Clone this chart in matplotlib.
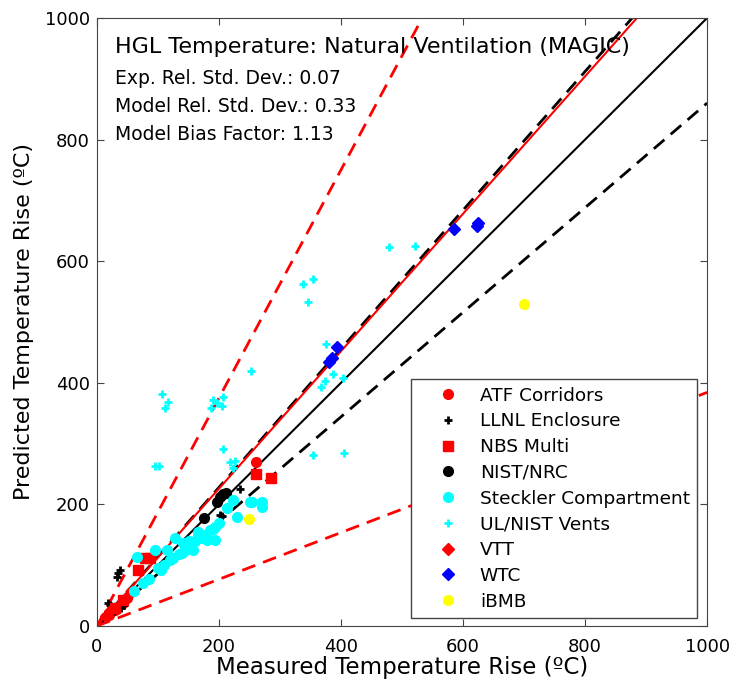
import numpy as np
import matplotlib
matplotlib.use("Agg")
import matplotlib.pyplot as plt

plt.rcParams['font.family'] = ['DejaVu Sans']

# measured / predicted temperature rise (C)
atf_x = [261, 20, 30, 42, 50, 55]
atf_y = [270, 18, 27, 38, 46, 56]

llnl_x = [234, 205, 202, 34, 38, 33, 18, 22, 40, 45, 28]
llnl_y = [226, 181, 183, 87, 92, 81, 38, 34, 30, 35, 25]

nbs_x = [261, 286, 79, 67, 87, 43, 30]
nbs_y = [250, 244, 112, 92, 112, 43, 30]

nist_x = [207, 196, 175, 202, 212]
nist_y = [217, 204, 178, 212, 219]

steck_x = [66, 95, 128, 157, 180, 193, 166, 185, 193, 141, 115, 213, 229, 223, 254,
           270, 270, 251, 100, 110, 120, 135, 145, 150, 160, 170, 175, 140, 125, 105,
           85, 75, 60, 150, 165, 190, 200, 178]
steck_y = [113, 125, 145, 125, 141, 141, 155, 158, 163, 137, 125, 194, 179, 207, 204,
           204, 196, 204, 95, 100, 108, 118, 125, 130, 140, 145, 150, 120, 112, 92,
           78, 70, 58, 140, 148, 160, 170, 150]

ul_x = [107, 116, 111, 190, 207, 187, 205, 196, 252, 207, 218, 226, 223, 95, 102,
        338, 354, 346, 479, 521, 375, 387, 374, 367, 403, 354, 405]
ul_y = [382, 368, 358, 372, 377, 359, 362, 367, 419, 291, 270, 271, 260, 263, 263,
        562, 571, 533, 623, 625, 464, 414, 403, 393, 408, 281, 284]

vtt_x = [15, 22]
vtt_y = [16, 24]

wtc_x = [585, 623, 625, 393, 385, 380]
wtc_y = [653, 658, 663, 459, 441, 434]

ibmb_x = [700, 249]
ibmb_y = [530, 176]

sigma_e = 0.07
sigma_m = 0.33
delta = 1.13

fig = plt.figure(figsize=(7.32, 6.86), dpi=100)
ax = fig.add_axes([0.1325, 0.0875, 0.8335, 0.8863])

xx = np.array([0, 1000])
ax.plot(xx, xx, 'k-', lw=1.5)
ax.plot(xx, xx * (1 + 2 * sigma_e), 'k--', lw=2, dashes=(5, 3))
ax.plot(xx, xx * (1 - 2 * sigma_e), 'k--', lw=2, dashes=(5, 3))
ax.plot(xx, xx * delta, 'r-', lw=1.5)
ax.plot(xx, xx * delta * (1 + 2 * sigma_m), 'r--', lw=2, dashes=(5, 3))
ax.plot(xx, xx * delta * (1 - 2 * sigma_m), 'r--', lw=2, dashes=(5, 3))

ms = 7
h = []
h += ax.plot(atf_x, atf_y, 'o', color='red', ms=ms, mec='red', label='ATF Corridors')
h += ax.plot(llnl_x, llnl_y, '+', color='black', ms=6, mew=2, label='LLNL Enclosure')
h += ax.plot(nbs_x, nbs_y, 's', color='red', ms=6.5, mec='red', label='NBS Multi')
h += ax.plot(nist_x, nist_y, 'o', color='black', ms=ms, label='NIST/NRC')
h += ax.plot(steck_x, steck_y, 'o', color='cyan', ms=ms, mec='cyan', label='Steckler Compartment')
h += ax.plot(ul_x, ul_y, '+', color='cyan', ms=6, mew=2, label='UL/NIST Vents')
h += ax.plot(vtt_x, vtt_y, 'D', color='red', ms=6, mec='red', label='VTT')
h += ax.plot(wtc_x, wtc_y, 'D', color='blue', ms=6, mec='blue', label='WTC')
h += ax.plot(ibmb_x, ibmb_y, 'o', color='yellow', ms=ms, mec='yellow', label='iBMB')

ax.set_xlim(0, 1000)
ax.set_ylim(0, 1000)
ax.set_xticks(range(0, 1001, 200))
ax.set_yticks(range(0, 1001, 200))
ax.tick_params(direction='in', top=True, right=True, labelsize=13, length=5,
               color='#444444', pad=5)
ax.tick_params(axis='x', pad=9)
for s in ax.spines.values():
    s.set_color('#444444')

ax.set_xlabel('Measured Temperature Rise (ºC)', fontsize=16.5, labelpad=0)
ax.set_ylabel('Predicted Temperature Rise (ºC)', fontsize=16, labelpad=8)

ax.text(30, 952, 'HGL Temperature: Natural Ventilation (MAGIC)', fontsize=16, va='center')
ax.text(30, 900, 'Exp. Rel. Std. Dev.: 0.07', fontsize=13.5, va='center')
ax.text(30, 854, 'Model Rel. Std. Dev.: 0.33', fontsize=13.5, va='center')
ax.text(30, 808, 'Model Bias Factor: 1.13', fontsize=13.5, va='center')

leg = ax.legend(handles=h, loc='lower right', bbox_to_anchor=(0.984, 0.013), fontsize=13.3,
                frameon=True, fancybox=False, framealpha=1, edgecolor='#444444',
                labelspacing=0.42, handlelength=3.2, handletextpad=0.15,
                borderpad=0.4, borderaxespad=0)
leg.get_frame().set_linewidth(1.0)

fig.savefig('out.png', dpi=100)
